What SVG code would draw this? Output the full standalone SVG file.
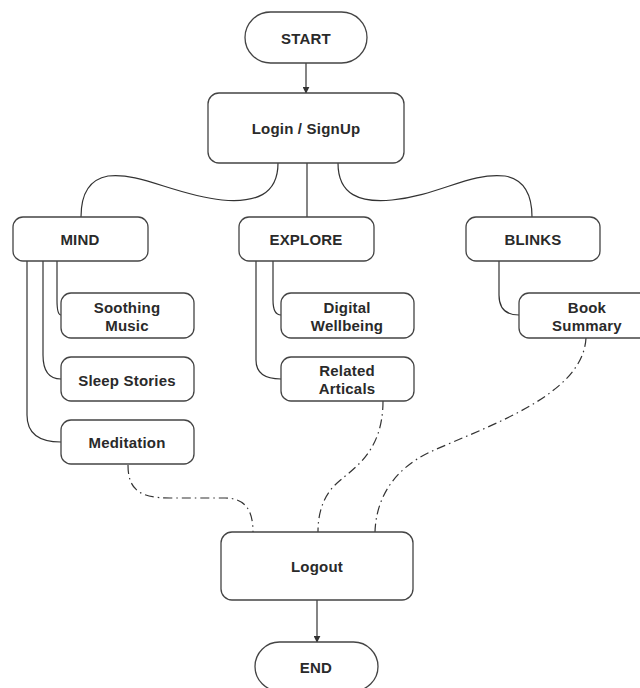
<svg xmlns="http://www.w3.org/2000/svg" width="640" height="688" viewBox="0 0 640 688">
<style>
.box{fill:#fff;stroke:#444;stroke-width:1.3}
.t{font-family:"Liberation Sans",Arial,sans-serif;font-weight:bold;font-size:15px;fill:#2a2a2a;text-anchor:middle;dominant-baseline:central;letter-spacing:0.2px}
.c{fill:none;stroke:#333;stroke-width:1.2}
.d{fill:none;stroke:#333;stroke-width:1.2;stroke-dasharray:9 4 1.5 4}
</style>
<defs>
<marker id="ah" viewBox="0 0 10 10" refX="9" refY="5" markerWidth="7" markerHeight="7" orient="auto" markerUnits="userSpaceOnUse">
<path d="M0 0 L10 5 L0 10 z" fill="#333"/>
</marker>
</defs>
<rect width="640" height="688" fill="#fff"/>
<g id="connectors">
<path class="c" d="M306 63 L306 93" marker-end="url(#ah)"/>
<path class="c" d="M278 163 C278 195 255 203 222 200 C175 195 140 172 108 176 C86 180 81 200 81 217"/>
<path class="c" d="M307 163 L307 217"/>
<path class="c" d="M338 163 C338 195 360 203 392 200 C440 195 470 172 505 176 C527 180 532 200 532 217"/>
<path class="c" d="M57 261 L57 300 Q57 315 61 315"/>
<path class="c" d="M43 261 L43 355 Q43 379 61 379"/>
<path class="c" d="M27 261 L27 415 Q27 442 61 442"/>
<path class="c" d="M273 261 L273 300 Q273 315 281 315"/>
<path class="c" d="M256 261 L256 360 Q256 379 281 379"/>
<path class="c" d="M499 261 L499 295 Q499 315 519 315"/>
<path class="d" d="M128 465 C128 490 140 498 170 498 L225 498 C245 498 253 510 253 532"/>
<path class="d" d="M383 401 C383 455 350 470 335 485 C322 498 318 515 318 532"/>
<path class="d" d="M586 338 C583 395 490 425 430 452 C392 470 376 500 375 532"/>
<path class="c" d="M317 600 L317 642" marker-end="url(#ah)"/>
</g>
<g id="start"><rect class="box" x="245" y="12" width="122" height="51" rx="25.5"/><text class="t" x="306" y="38">START</text></g>
<g id="login"><rect class="box" x="208" y="93" width="196" height="70" rx="11"/><text class="t" x="306" y="128">Login / SignUp</text></g>
<g id="mind"><rect class="box" x="13" y="217" width="135" height="44" rx="10"/><text class="t" x="80" y="239">MIND</text></g>
<g id="explore"><rect class="box" x="239" y="217" width="135" height="44" rx="10"/><text class="t" x="306" y="239">EXPLORE</text></g>
<g id="blinks"><rect class="box" x="466" y="217" width="134" height="44" rx="10"/><text class="t" x="533" y="239">BLINKS</text></g>
<g id="soothing"><rect class="box" x="61" y="293" width="133" height="45" rx="10"/><text class="t" x="127" y="307">Soothing</text><text class="t" x="127" y="325">Music</text></g>
<g id="sleep"><rect class="box" x="61" y="357" width="133" height="44" rx="10"/><text class="t" x="127" y="380">Sleep Stories</text></g>
<g id="meditation"><rect class="box" x="61" y="420" width="133" height="44" rx="10"/><text class="t" x="127" y="442">Meditation</text></g>
<g id="digital"><rect class="box" x="281" y="293" width="133" height="45" rx="10"/><text class="t" x="347" y="307">Digital</text><text class="t" x="347" y="325">Wellbeing</text></g>
<g id="related"><rect class="box" x="281" y="357" width="133" height="44" rx="10"/><text class="t" x="347" y="370">Related</text><text class="t" x="347" y="388">Articals</text></g>
<g id="book"><rect class="box" x="519" y="293" width="136" height="45" rx="10"/><text class="t" x="587" y="307">Book</text><text class="t" x="587" y="325">Summary</text></g>
<g id="logout"><rect class="box" x="221" y="532" width="192" height="68" rx="11"/><text class="t" x="317" y="566">Logout</text></g>
<g id="end"><rect class="box" x="255" y="642" width="123" height="49" rx="24.5"/><text class="t" x="316" y="667">END</text></g>
</svg>
